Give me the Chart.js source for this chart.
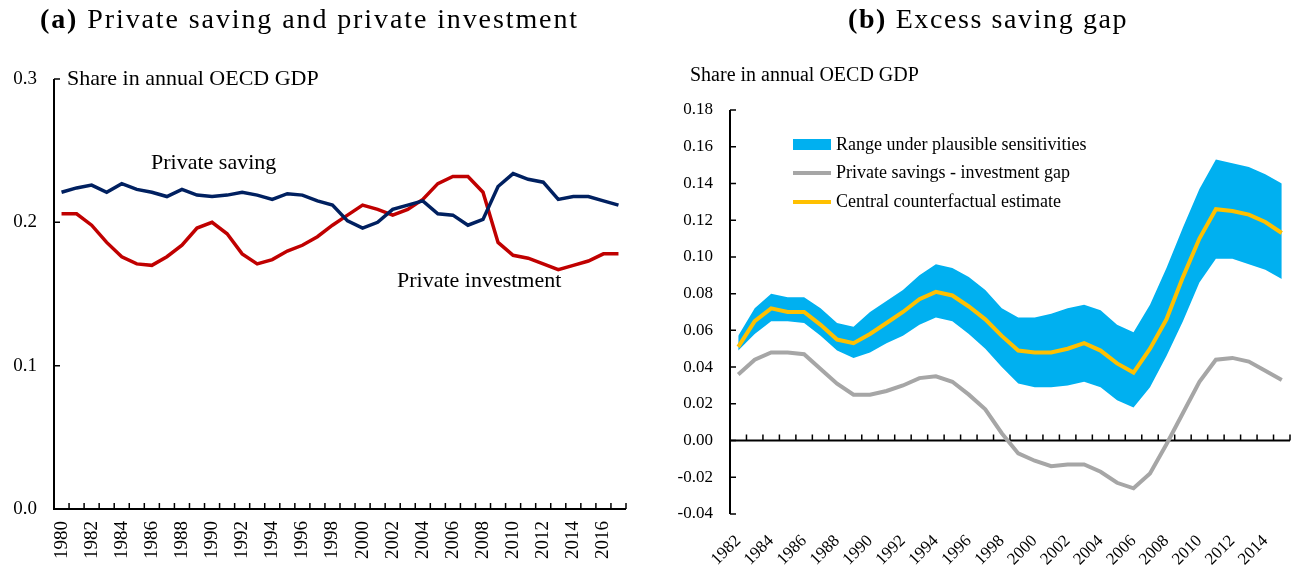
<!DOCTYPE html>
<html>
<head>
<meta charset="utf-8">
<script src="https://cdn.jsdelivr.net/npm/chart.js@4.4.1/dist/chart.umd.min.js"></script>
<style>
  body { margin: 0; background: #fff; }
  #wrap { position: relative; width: 1294px; height: 565px; font-family: "Liberation Serif", serif; color: #000; }
  canvas { position: absolute; top: 0; }
  .t { position: absolute; white-space: nowrap; line-height: 1; }
  .title { font-size: 28px; letter-spacing: 1.6px; }
  .sw { position: absolute; }
</style>
</head>
<body>
<div id="wrap">
  <canvas id="canvasA" width="640" height="565" style="left:0"></canvas>
  <canvas id="canvasB" width="654" height="565" style="left:640px"></canvas>

  <div class="t title" style="left:40px;top:5px;letter-spacing:1.9px"><b>(a)</b> Private saving and private investment</div>
  <div class="t title" style="left:848px;top:5px"><b>(b)</b> Excess saving gap</div>

  <div class="t" style="left:67px;top:67px;font-size:22px">Share in annual OECD GDP</div>
  <div class="t" style="left:690px;top:64px;font-size:20px">Share in annual OECD GDP</div>

  <div class="t" style="left:151px;top:151px;font-size:22px">Private saving</div>
  <div class="t" style="left:397px;top:269px;font-size:22px">Private investment</div>

  <!-- legend, panel b -->
  <div class="sw" style="left:793px;top:139px;width:38px;height:11px;background:#00B0F0"></div>
  <div class="t" style="left:836px;top:135px;font-size:18px">Range under plausible sensitivities</div>
  <div class="sw" style="left:793px;top:171px;width:38px;height:4px;background:#A6A6A6"></div>
  <div class="t" style="left:836px;top:163px;font-size:18px">Private savings - investment gap</div>
  <div class="sw" style="left:793px;top:200px;width:38px;height:4px;background:#FFC000"></div>
  <div class="t" style="left:836px;top:192px;font-size:18px">Central counterfactual estimate</div>
</div>

<script>
// panel (a): private saving and investment, 1980-2017
var yearsA = [];
for (var y = 1980; y <= 2017; y++) yearsA.push(String(y));

var privateSaving = [
  0.221, 0.224, 0.226, 0.221, 0.227, 0.223, 0.221, 0.218, 0.223, 0.219,
  0.218, 0.219, 0.221, 0.219, 0.216, 0.220, 0.219, 0.215, 0.212, 0.201,
  0.196, 0.200, 0.209, 0.212, 0.215, 0.206, 0.205, 0.198, 0.202, 0.225,
  0.234, 0.230, 0.228, 0.216, 0.218, 0.218, 0.215, 0.212
];
var privateInvestment = [
  0.206, 0.206, 0.198, 0.186, 0.176, 0.171, 0.170, 0.176, 0.184, 0.196,
  0.200, 0.192, 0.178, 0.171, 0.174, 0.180, 0.184, 0.190, 0.198, 0.205,
  0.212, 0.209, 0.205, 0.209, 0.216, 0.227, 0.232, 0.232, 0.221, 0.186,
  0.177, 0.175, 0.171, 0.167, 0.170, 0.173, 0.178, 0.178
];

// panel (b): excess saving gap, 1982-2015
var yearsB = [];
for (var y = 1982; y <= 2015; y++) yearsB.push(String(y));

var savingsGap = [
  0.036, 0.044, 0.048, 0.048, 0.047, 0.039, 0.031, 0.025, 0.025, 0.027,
  0.030, 0.034, 0.035, 0.032, 0.025, 0.017, 0.004, -0.007, -0.011, -0.014,
  -0.013, -0.013, -0.017, -0.023, -0.026, -0.018, -0.002, 0.015, 0.032, 0.044,
  0.045, 0.043, 0.038, 0.033
];
var centralEstimate = [
  0.051, 0.065, 0.072, 0.070, 0.070, 0.063, 0.055, 0.053, 0.058, 0.064,
  0.070, 0.077, 0.081, 0.079, 0.073, 0.066, 0.057, 0.049, 0.048, 0.048,
  0.050, 0.053, 0.049, 0.042, 0.037, 0.050, 0.066, 0.089, 0.110, 0.126,
  0.125, 0.123, 0.119, 0.113
];
var rangeUpper = [
  0.057, 0.072, 0.080, 0.078, 0.078, 0.072, 0.064, 0.062, 0.070, 0.076,
  0.082, 0.090, 0.096, 0.094, 0.089, 0.082, 0.072, 0.067, 0.067, 0.069,
  0.072, 0.074, 0.071, 0.063, 0.059, 0.074, 0.094, 0.116, 0.137, 0.153,
  0.151, 0.149, 0.145, 0.140
];
var rangeLower = [
  0.049, 0.058, 0.065, 0.065, 0.064, 0.057, 0.049, 0.045, 0.048, 0.053,
  0.057, 0.063, 0.067, 0.065, 0.058, 0.050, 0.040, 0.031, 0.029, 0.029,
  0.030, 0.032, 0.029, 0.022, 0.018, 0.029, 0.046, 0.065, 0.086, 0.099,
  0.099, 0.096, 0.093, 0.088
];

var tickFont = { family: "Liberation Serif", size: 19 };

// black axes with the ticks turned inward, drawn under the lines
var innerAxes = {
  id: 'innerAxes',
  beforeDatasetsDraw: function(chart, args, opts) {
    var ctx = chart.ctx;
    var area = chart.chartArea;
    var xs = chart.scales.x, ys = chart.scales.y;
    var yBase = ys.getPixelForValue(opts.base);
    var n = xs.ticks.length;
    ctx.save();
    ctx.strokeStyle = '#000';
    ctx.lineWidth = 2;
    ctx.beginPath();
    ctx.moveTo(area.left, area.top);
    ctx.lineTo(area.left, area.bottom);
    ctx.moveTo(area.left - 1, yBase);
    ctx.lineTo(area.right, yBase);
    ctx.stroke();
    ctx.lineWidth = 1.5;
    ctx.beginPath();
    for (var i = 0; i < ys.ticks.length; i++) {
      var py = ys.getPixelForTick(i);
      ctx.moveTo(area.left, py);
      ctx.lineTo(area.left + 6, py);
    }
    for (var j = 1; j <= n; j++) {
      var px = xs.getPixelForValue(j - 0.5);
      ctx.moveTo(px, yBase);
      ctx.lineTo(px, yBase - 6);
    }
    ctx.stroke();
    ctx.restore();
  }
};

function everyOther(value, index) {
  return index % 2 == 0 ? this.getLabelForValue(value) : '';
}

// fixed height for the x axis, and no extra room for the rotated labels
function fixX(h) {
  return function(scale) {
    scale.height = h;
    scale.paddingLeft = 0;
    scale.paddingRight = 0;
  };
}

var chartA = new Chart(document.getElementById("canvasA"), {
  type: 'line',
  data: {
    labels: yearsA,
    datasets: [
      { data: privateSaving, borderColor: '#002060', borderWidth: 3.5, pointRadius: 0, fill: false },
      { data: privateInvestment, borderColor: '#C00000', borderWidth: 3.5, pointRadius: 0, fill: false }
    ]
  },
  options: {
    responsive: false,
    animation: false,
    devicePixelRatio: 1,
    layout: { padding: { top: 79, right: 14, left: 0, bottom: 0 } },
    plugins: { legend: { display: false }, tooltip: { enabled: false }, innerAxes: { base: 0 } },
    scales: {
      x: {
        offset: true,
        grid: { display: false, drawTicks: false },
        border: { display: false },
        ticks: { color: '#000', font: tickFont, autoSkip: false, minRotation: 90, maxRotation: 90, padding: 12, callback: everyOther },
        afterFit: fixX(56)
      },
      y: {
        min: 0, max: 0.3,
        grid: { display: false, drawTicks: false },
        border: { display: false },
        ticks: { color: '#000', font: tickFont, stepSize: 0.1, padding: 17,
          callback: function(v) { return v.toFixed(1); } },
        afterFit: function(scale) { scale.width = 54; }
      }
    }
  },
  plugins: [innerAxes]
});

var tickFontB = { family: "Liberation Serif", size: 17 };

var chartB = new Chart(document.getElementById("canvasB"), {
  type: 'line',
  data: {
    labels: yearsB,
    datasets: [
      { label: 'Central counterfactual estimate', data: centralEstimate, borderColor: '#FFC000', borderWidth: 4, pointRadius: 0, fill: false },
      { label: 'Private savings - investment gap', data: savingsGap, borderColor: '#A6A6A6', borderWidth: 4, pointRadius: 0, fill: false },
      { label: 'Range under plausible sensitivities', data: rangeUpper, borderWidth: 0, pointRadius: 0, backgroundColor: '#00B0F0', fill: '+1' },
      { label: 'lower', data: rangeLower, borderWidth: 0, pointRadius: 0, fill: false }
    ]
  },
  options: {
    responsive: false,
    animation: false,
    devicePixelRatio: 1,
    layout: { padding: { top: 110, right: 4, left: 0, bottom: 0 } },
    plugins: { legend: { display: false }, tooltip: { enabled: false }, innerAxes: { base: 0 } },
    scales: {
      x: {
        offset: true,
        grid: { display: false, drawTicks: false },
        border: { display: false },
        ticks: { color: '#000', font: tickFontB, autoSkip: false, minRotation: 45, maxRotation: 45, padding: 17, callback: everyOther },
        afterFit: fixX(51)
      },
      y: {
        min: -0.04, max: 0.18,
        grid: { display: false, drawTicks: false },
        border: { display: false },
        ticks: { color: '#000', font: tickFontB, stepSize: 0.02, padding: 17,
          callback: function(v) { return v.toFixed(2); } },
        afterFit: function(scale) { scale.width = 90; }
      }
    }
  },
  plugins: [innerAxes]
});
</script>
</body>
</html>
